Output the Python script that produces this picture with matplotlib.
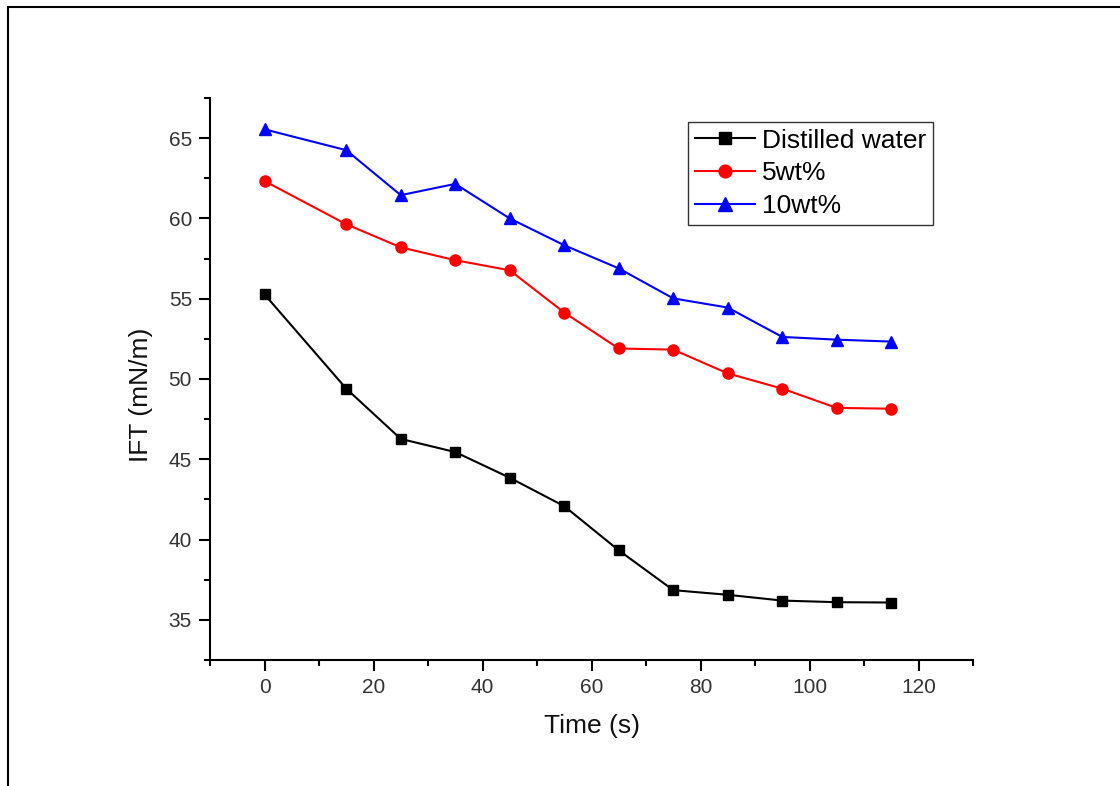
import matplotlib
matplotlib.use("Agg")
import matplotlib.pyplot as plt
from matplotlib.patches import Rectangle
from matplotlib.ticker import MultipleLocator

plt.rcParams['font.family'] = ['Liberation Sans', 'DejaVu Sans']

time_s = [0, 15, 25, 35, 45, 55, 65, 75, 85, 95, 105, 115]
distilled = [55.27, 49.4, 46.27, 45.45, 43.85, 42.08, 39.33, 36.85, 36.56, 36.2, 36.1, 36.08]
wt5 = [62.33, 59.64, 58.2, 57.4, 56.77, 54.14, 51.9, 51.83, 50.35, 49.4, 48.2, 48.15]
wt10 = [65.55, 64.25, 61.45, 62.15, 60.0, 58.33, 56.89, 55.02, 54.45, 52.62, 52.45, 52.33]
labels = ["Distilled water", "5wt%", "10wt%"]

fig = plt.figure(figsize=(11.2, 7.86), dpi=100)
ax = fig.add_axes([210/1120, 1-660/786, (973-210)/1120, (660-98)/786])

ax.plot(time_s, distilled, color='black', marker='s', ms=7.5, lw=1.5, label=labels[0])
ax.plot(time_s, wt5, color='red', marker='o', ms=8, lw=1.5, label=labels[1])
ax.plot(time_s, wt10, color='blue', marker='^', ms=8.5, lw=1.5, label=labels[2])

ax.set_xlim(-10, 130)
ax.set_ylim(32.5, 67.5)
ax.xaxis.set_major_locator(MultipleLocator(20))
ax.xaxis.set_minor_locator(MultipleLocator(10))
ax.yaxis.set_major_locator(MultipleLocator(5))
ax.yaxis.set_minor_locator(MultipleLocator(2.5))
ax.spines['top'].set_visible(False)
ax.spines['right'].set_visible(False)
for s in ('left', 'bottom'):
    ax.spines[s].set_linewidth(1.5)
ax.tick_params(which='major', direction='out', length=8, width=1.5, labelsize=15,
               labelcolor='#333333', pad=5)
ax.tick_params(which='minor', direction='out', length=4.5, width=1.5)

ax.set_xlabel("Time (s)", fontsize=19, color='#111111', labelpad=12)
ax.set_ylabel("IFT (mN/m)", fontsize=19, color='#111111')
ax.yaxis.set_label_coords(-0.091, 0.4715)
ax.yaxis.label.set_va('center')

leg = ax.legend(loc='upper left', bbox_to_anchor=((688-210)/763, 1-(122-98)/562),
                fontsize=19, numpoints=1, handlelength=2.3, handletextpad=0.25,
                labelspacing=0.33, borderpad=0.25, borderaxespad=0, fancybox=False,
                frameon=True, edgecolor='black', markerscale=1.15)
leg.get_frame().set_linewidth(1.0)

fig.patches.append(Rectangle((8/1120, -0.1), 1.2, 1-7/786+0.1, transform=fig.transFigure,
                             fill=False, edgecolor='black', lw=1.5))

fig.savefig("out.png", dpi=100)
